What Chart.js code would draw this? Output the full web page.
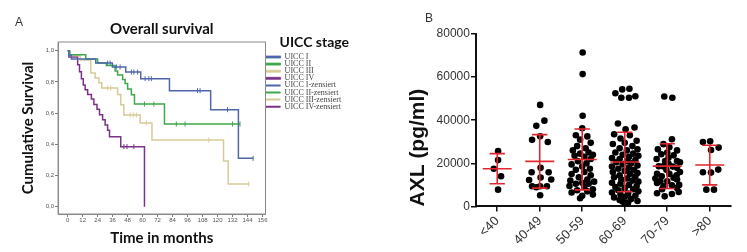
<!DOCTYPE html>
<html>
<head>
<meta charset="utf-8">
<script src="https://cdn.jsdelivr.net/npm/chart.js@4.4.1/dist/chart.umd.min.js"></script>
<style>
  html, body { margin: 0; padding: 0; background: #fff; }
  body { width: 747px; height: 252px; position: relative; overflow: hidden; font-family: "Liberation Sans", Arial, sans-serif; }
  .panel { position: absolute; top: 0; height: 252px; }
  #wrapA { left: 0; width: 380px; }
  #wrapB { left: 380px; width: 367px; }
  .tag { position: absolute; font-size: 12px; color: #333; line-height: 14px; }
</style>
</head>
<body>
<div id="wrapA" class="panel"><canvas id="survival"></canvas></div>
<div id="wrapB" class="panel"><canvas id="axl"></canvas></div>
<div class="tag" style="left:15px; top:15px">A</div>
<div class="tag" style="left:425px; top:11px">B</div>
<script>
// ---- panel A: overall survival by UICC stage (Kaplan-Meier) ----
const stages = ["UICC I", "UICC II", "UICC III", "UICC IV"];
const stageColors = ["#4f67aa", "#3fa84a", "#d6cb98", "#7c3189"];

const monthsI = [0, 1, 3, 22.5, 35.8, 46.5, 58.5, 81.5, 114.5, 136.7, 148.5];
const survI   = [1, 0.97, 0.947, 0.921, 0.896, 0.863, 0.821, 0.744, 0.622, 0.31, 0.31];
const monthsII = [0, 1.5, 14.5, 24, 31, 38, 40, 44, 46, 48, 51, 53.5, 77.5, 138];
const survII   = [1, 0.974, 0.947, 0.921, 0.905, 0.87, 0.845, 0.815, 0.79, 0.755, 0.718, 0.658, 0.53, 0.53];
const monthsIII = [0, 2, 10, 18.5, 22, 25, 27.3, 40, 42.5, 45, 58, 67.5, 124.8, 128.5, 145];
const survIII   = [1, 0.97, 0.94, 0.857, 0.825, 0.795, 0.761, 0.72, 0.654, 0.588, 0.537, 0.427, 0.293, 0.146, 0.146];
const monthsIV = [0, 1, 8, 9.5, 11, 12.5, 14, 16, 19, 21, 23.5, 25.5, 28, 30, 32, 33.5, 42.5, 61.5];
const survIV   = [1, 0.96, 0.91, 0.865, 0.82, 0.78, 0.75, 0.72, 0.69, 0.655, 0.625, 0.59, 0.558, 0.524, 0.49, 0.449, 0.385, 0];

// censored cases [month, survival]
const censI = [[32, 0.921], [34, 0.921], [39, 0.896], [42, 0.896], [51, 0.863], [53, 0.863], [56, 0.863],
               [62, 0.821], [65, 0.821], [67, 0.821], [104, 0.744], [106, 0.744], [128, 0.622], [148.5, 0.31]];
const censII = [[61.5, 0.658], [69, 0.658], [87, 0.53], [94, 0.53], [132, 0.53], [138, 0.53]];
const censIII = [[32, 0.761], [34.5, 0.761], [50, 0.588], [52.5, 0.588], [55, 0.588], [63, 0.537], [113, 0.427], [145, 0.146]];
const censIV = [[45, 0.385], [47.5, 0.385], [53, 0.385]];

const monthTicks = [0, 12, 24, 36, 48, 60, 72, 84, 96, 108, 120, 132, 144, 156];
const survTicks = [0, 0.2, 0.4, 0.6, 0.8, 1.0];

// ---- panel B: AXL by age group ----
const ageGroups = ["<40", "40-49", "50-59", "60-69", "70-79", ">80"];
const axlMean = [17500, 20900, 21800, 20600, 18700, 19200];
const axlSd = [7000, 12400, 14100, 13800, 10400, 9200];
const axlTicks = [0, 20000, 40000, 60000, 80000];

// [horizontal jitter within the group, AXL pg/ml]
const axlLt40 = [[0.02, 25700], [0.02, 21500], [-0.08, 17500], [0.09, 14000], [0.02, 7800]];
const axl40to49 = [[0.01, 47100], [0.11, 39800], [-0.08, 37400], [0.01, 32600], [-0.18, 30900], [0.19, 29900],
  [0.02, 17900], [-0.19, 15900], [0.21, 15900], [0.02, 13400], [-0.25, 12300], [0.27, 12500],
  [-0.18, 9400], [0.01, 9400], [0.17, 9400], [-0.08, 8900], [0.01, 5200]];
const axl50to59 = [[0.01, 71400], [0.01, 61400], [0.01, 42100], [0, 36300],
  [-0.15, 33000], [0.12, 32500], [-0.05, 31000], [0.2, 29500], [-0.12, 28000], [0.08, 27000],
  [-0.22, 26000], [0.15, 25000], [-0.05, 24500], [0.25, 24000], [-0.18, 23500], [0.05, 23000],
  [0.2, 22000], [-0.1, 21000], [0.1, 20000], [-0.25, 19500], [0, 18500], [0.18, 17500],
  [-0.15, 17000], [0.05, 16000], [-0.25, 15000], [0.2, 14500], [-0.08, 13500], [0.12, 12500],
  [-0.28, 12000], [0.28, 11500], [0, 11000], [-0.15, 10500], [0.15, 10500], [-0.3, 9500],
  [0.05, 9000], [0.25, 8000], [-0.12, 7500], [0.12, 7000], [-0.25, 6500], [0.25, 5500],
  [0, 5000], [-0.05, 3800]];
const axl60to69 = [[-0.22, 52500], [-0.06, 54300], [0.11, 54600], [-0.08, 50400], [0.1, 50400], [0.25, 51100],
  [-0.16, 38500], [0.23, 36600], [0.02, 35800], [-0.25, 33500], [0.12, 33000], [-0.1, 31500],
  [0.28, 30500], [0, 29500], [-0.28, 29000], [0.18, 28000], [-0.12, 27000], [0.3, 26500],
  [0.05, 26000], [-0.22, 25000], [0.2, 24500], [-0.05, 24000], [0.32, 23500], [0.1, 23000],
  [-0.3, 22500], [-0.12, 22000], [0.25, 21500], [0.05, 21000], [-0.2, 20500], [0.15, 20000],
  [-0.05, 19500], [0.3, 19000], [-0.3, 18500], [0.1, 18000], [-0.15, 17500], [0.22, 17000],
  [0, 16500], [-0.28, 16000], [0.3, 15500], [0.12, 15000], [-0.12, 14500], [0.25, 14000],
  [-0.25, 13500], [0.05, 13000], [-0.08, 12500], [0.18, 12000], [0.32, 11500], [-0.3, 11000],
  [-0.1, 10500], [0.1, 10000], [0.28, 9500], [-0.22, 9000], [0, 8500], [0.2, 8000],
  [-0.15, 7500], [0.32, 7000], [-0.3, 6500], [0.08, 6000], [-0.1, 5500], [0.25, 5000],
  [0, 4500], [-0.25, 4200], [0.15, 3500], [-0.12, 3000], [0.3, 2500], [-0.05, 2300],
  [0.08, 1800], [0, 1500]];
const axl70to79 = [[-0.07, 51000], [0.12, 50400], [0.11, 31200], [-0.09, 28900], [0.05, 27500], [-0.22, 26500],
  [0.23, 26000], [0, 25000], [-0.14, 24200], [0.15, 23700], [0.03, 22600], [-0.25, 22000],
  [-0.05, 21100], [0.23, 21100], [0.3, 20500], [0.03, 19800], [-0.2, 18600], [-0.1, 18600],
  [0.13, 18500], [0.23, 17900], [-0.02, 17000], [0.3, 16000], [-0.24, 15100], [0.05, 15100],
  [0.22, 14500], [-0.13, 14000], [0.15, 13300], [-0.28, 13000], [0.23, 12500], [-0.16, 11700],
  [0, 11700], [-0.24, 10900], [0.28, 10000], [0.11, 9800], [-0.09, 9400], [0.23, 8600],
  [-0.12, 8000], [0.27, 6700], [-0.24, 6100], [0.11, 5800], [-0.06, 4700]];
const axlOver80 = [[-0.16, 29900], [0.01, 30200], [0.21, 27300], [0.03, 26200], [0.2, 17100],
  [-0.16, 15900], [0.03, 15700], [-0.08, 7800], [0.1, 7800]];

const axlGroups = [axlLt40, axl40to49, axl50to59, axl60to69, axl70to79, axlOver80];

// ----------------------------------------------------------------
const calibri = "Lato, 'Open Sans', sans-serif";
const arial = "'Liberation Sans', Arial, sans-serif";

const curves = [[monthsI, survI], [monthsII, survII], [monthsIII, survIII], [monthsIV, survIV]];
const censored = [censI, censII, censIII, censIV];

const survDatasets = curves.map(([t, s], k) => ({
  type: "line",
  label: stages[k],
  data: t.map((m, j) => ({ x: m, y: s[j] })),
  borderColor: stageColors[k],
  backgroundColor: stageColors[k],
  borderWidth: 1.5,
  stepped: "before",
  pointRadius: 0,
  fill: false
}));

const censorDatasets = censored.map((c, k) => ({
  type: "scatter",
  label: stages[k] + "-zensiert",
  data: c.map(([m, s]) => ({ x: m, y: s })),
  pointStyle: "line",
  rotation: 90,
  radius: 2.5,
  borderColor: stageColors[k],
  backgroundColor: stageColors[k],
  borderWidth: 1
}));

// box around the plotting area (SPSS style)
const frame = {
  id: "frame",
  beforeDatasetsDraw(chart) {
    const { ctx, chartArea: a } = chart;
    ctx.save();
    ctx.strokeStyle = "#8a8a8a";
    ctx.lineWidth = 1;
    ctx.strokeRect(a.left, a.top, a.right - a.left, a.bottom - a.top);
    ctx.restore();
  }
};

new Chart(document.getElementById("survival"), {
  data: { datasets: survDatasets.concat(censorDatasets) },
  options: {
    animation: false,
    responsive: true,
    maintainAspectRatio: false,
    layout: { padding: { top: 10, right: 31, bottom: 2, left: 15 } },
    plugins: {
      title: {
        display: true, text: "Overall survival", fullSize: false,
        font: { family: calibri, size: 15, weight: "bold" }, color: "#111",
        padding: { top: 10, bottom: 4 }
      },
      legend: {
        position: "right", align: "start",
        title: {
          display: true, text: "UICC stage", position: "end",
          font: { family: calibri, size: 14, weight: "bold" }, color: "#111",
          padding: { top: 25, bottom: 2.1 }
        },
        labels: {
          font: { family: "'Liberation Serif', 'DejaVu Serif', serif", size: 8 },
          color: "#444",
          boxWidth: 16,
          boxHeight: 2,
          padding: -0.9,
          generateLabels: (chart) => chart.data.datasets.map((ds, i) => ({
            text: ds.label,
            fillStyle: ds.borderColor,
            strokeStyle: ds.borderColor,
            lineWidth: i < 4 ? 0.8 : 0,
            fontColor: "#444",
            hidden: false,
            datasetIndex: i
          }))
        }
      },
      tooltip: { enabled: false }
    },
    scales: {
      x: {
        type: "linear", min: -7.7, max: 158.4,
        afterBuildTicks: (s) => { s.ticks = monthTicks.map((v) => ({ value: v })); },
        ticks: { font: { family: arial, size: 6 }, color: "#555", padding: 0, autoSkip: false, maxRotation: 0 },
        grid: { drawOnChartArea: false, tickLength: 3, color: "#777" },
        border: { color: "#8a8a8a" },
        title: {
          display: true, text: "Time in months",
          font: { family: calibri, size: 15, weight: "bold" }, color: "#111",
          padding: { top: 4.8, bottom: 3 }
        }
      },
      y: {
        min: -0.047, max: 1.056,
        afterBuildTicks: (s) => { s.ticks = survTicks.map((v) => ({ value: v })); },
        ticks: {
          font: { family: arial, size: 6 }, color: "#555", padding: 1,
          callback: (v) => v.toFixed(1).replace(".", ",")
        },
        grid: { drawOnChartArea: false, tickLength: 3, color: "#777" },
        border: { color: "#8a8a8a" },
        title: {
          display: true, text: "Cumulative Survival",
          font: { family: calibri, size: 15, weight: "bold" }, color: "#111",
          padding: { top: 4, bottom: 7.7 }
        }
      }
    }
  },
  plugins: [frame]
});

// ---- panel B ----
const meanSdBars = {
  id: "meanSdBars",
  afterDatasetsDraw(chart) {
    const { ctx, scales: { x, y } } = chart;
    ctx.save();
    ctx.strokeStyle = "#e3262d";
    ctx.lineWidth = 1.6;
    axlMean.forEach((m, i) => {
      const xc = x.getPixelForValue(i);
      const half = x.getPixelForValue(i + 0.34) - xc;
      const cap = x.getPixelForValue(i + 0.18) - xc;
      const yMean = y.getPixelForValue(m);
      const yHi = y.getPixelForValue(m + axlSd[i]);
      const yLo = y.getPixelForValue(m - axlSd[i]);
      ctx.beginPath();
      ctx.moveTo(xc - half, yMean); ctx.lineTo(xc + half, yMean);
      ctx.moveTo(xc, yHi); ctx.lineTo(xc, yLo);
      ctx.moveTo(xc - cap, yHi); ctx.lineTo(xc + cap, yHi);
      ctx.moveTo(xc - cap, yLo); ctx.lineTo(xc + cap, yLo);
      ctx.stroke();
    });
    ctx.restore();
  }
};

new Chart(document.getElementById("axl"), {
  type: "scatter",
  data: {
    datasets: axlGroups.map((pts, i) => ({
      label: ageGroups[i],
      data: pts.map(([dx, v]) => ({ x: i + dx, y: v })),
      backgroundColor: "#000",
      borderWidth: 0,
      pointRadius: 3.3
    }))
  },
  options: {
    animation: false,
    responsive: true,
    maintainAspectRatio: false,
    layout: { padding: { top: 34, right: 16, bottom: 2, left: 22 } },
    plugins: { legend: { display: false }, tooltip: { enabled: false } },
    scales: {
      x: {
        type: "linear", min: -0.5, max: 5.5,
        afterBuildTicks: (s) => { s.ticks = ageGroups.map((_, i) => ({ value: i })); },
        ticks: {
          callback: (v) => ageGroups[v], autoSkip: false,
          minRotation: 45, maxRotation: 45,
          font: { family: arial, size: 13 }, color: "#333", padding: 2
        },
        grid: { drawOnChartArea: false, tickLength: 5, color: "#111", lineWidth: 1.5 },
        border: { color: "#111", width: 2 }
      },
      y: {
        min: 0, max: 80000,
        afterBuildTicks: (s) => { s.ticks = axlTicks.map((v) => ({ value: v })); },
        ticks: { callback: (v) => String(v), font: { family: arial, size: 12 }, color: "#333", padding: 1 },
        grid: { drawOnChartArea: false, tickLength: 5, color: "#111", lineWidth: 1.5 },
        border: { color: "#111", width: 2 },
        title: {
          display: true, text: "AXL (pg/ml)", align: "start",
          font: { family: arial, size: 21, weight: "bold" }, color: "#111",
          padding: { top: 3.7, bottom: 4.7 }
        }
      }
    }
  },
  plugins: [meanSdBars]
});
</script>
</body>
</html>
